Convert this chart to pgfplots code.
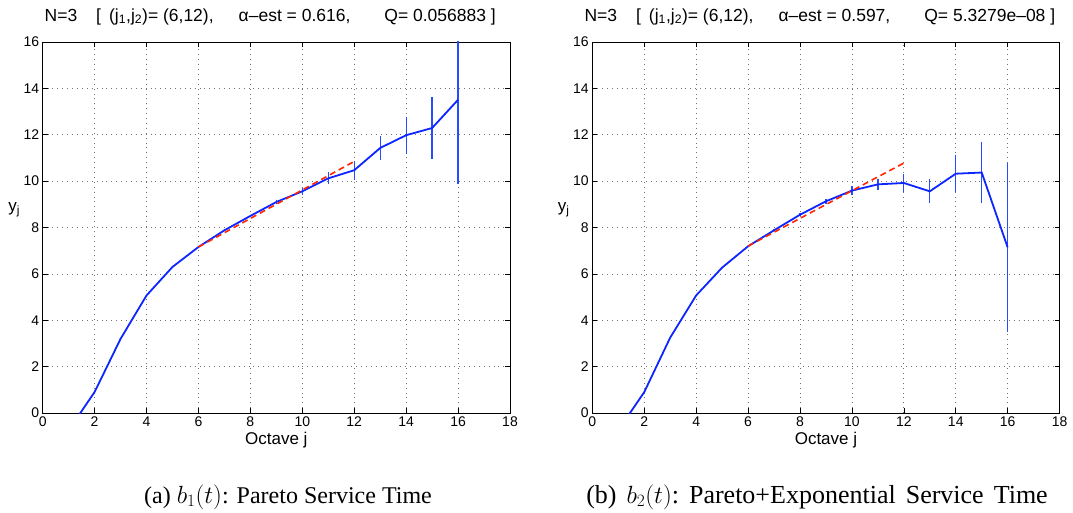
\documentclass[border=0pt]{standalone}
\usepackage{fontspec}
\setmainfont{Liberation Sans}
\newfontfamily\capfont{Liberation Serif}
\usepackage{pgfplots}
\pgfplotsset{compat=1.18}
\usepackage{pgfplotstable}

\pgfplotstableread{
j y
1 -0.74
2 0.906
3 3.2
4 5.07
5 6.30
6 7.16
7 7.88
8 8.50
9 9.10
10 9.56
11 10.12
12 10.47
13 11.43
14 11.98
15 12.29
16 13.51
}\leftdata

% error bar ends (lower, upper) per octave
\pgfplotstableread{
j y
6 7.13
6 7.19
nan nan
7 7.84
7 7.92
nan nan
8 8.44
8 8.56
nan nan
9 9.00
9 9.20
nan nan
10 9.40
10 9.72
nan nan
11 9.86
11 10.38
nan nan
12 10.07
12 10.87
nan nan
13 10.90
13 11.96
nan nan
14 11.18
14 12.78
nan nan
15 10.96
15 13.62
nan nan
16 9.89
16 17.13
}\lefterr

\pgfplotstableread{
j y
1 -0.74
2 0.90
3 3.25
4 5.07
5 6.27
6 7.19
7 7.88
8 8.55
9 9.13
10 9.59
11 9.86
12 9.92
13 9.56
14 10.32
15 10.37
16 7.14
}\rightdata

\pgfplotstableread{
j y
6 7.16
6 7.22
nan nan
7 7.84
7 7.92
nan nan
8 8.49
8 8.61
nan nan
9 9.03
9 9.23
nan nan
10 9.39
10 9.79
nan nan
11 9.61
11 10.11
nan nan
12 9.55
12 10.29
nan nan
13 9.04
13 10.08
nan nan
14 9.53
14 11.11
nan nan
15 9.04
15 11.70
nan nan
16 3.50
16 10.78
}\righterr

\pgfplotstableread{
j y
6 7.16
12 10.85
}\leftfit

\pgfplotstableread{
j y
6 7.20
12 10.78
}\rightfit

\definecolor{mblue}{rgb}{0.05,0.15,1}
\definecolor{eblue}{rgb}{0.15,0.3,1}
\definecolor{mred}{rgb}{1,0.15,0}

\pgfplotsset{
  mstyle/.style={
    anchor=south west,
    width=467.3pt, height=371pt, scale only axis,
    xmin=0, xmax=18, ymin=0, ymax=16,
    xtick={0,2,...,18}, ytick={0,2,...,16},
    tick align=inside, major tick length=5pt,
    grid=major,
    major grid style={dash pattern=on 0.9pt off 4pt, black!55, line width=0.7pt},
    axis line style={line width=0.8pt},
    every tick/.style={black, line width=0.6pt},
    /pgf/number format/assume math mode=true,
    tick label style={font=\fontsize{14}{16}\selectfont},
    label style={font=\fontsize{17}{20}\selectfont},
    title style={font=\fontsize{17.5}{20}\selectfont, at={(axis description cs:0.487,1.0566)}, anchor=base, yshift=-6pt},
    xlabel={Octave j},
    xlabel style={at={(axis description cs:0.5,-0.073)}, anchor=center},
    ylabel={y\textsubscript{j}},
    ylabel style={at={(axis description cs:-0.061,0.547)}, anchor=center, rotate=-90},
    clip=true,
    unbounded coords=jump,
  }
}

\newcommand{\ttl}[2]{N=3\hspace{19pt}[\hspace{8pt}(j\textsubscript{1},j\textsubscript{2})= (6,12),\hspace{25pt}α–est = #1,\hspace{34pt}Q= #2 ]}

\begin{document}
\begin{tikzpicture}[x=1pt,y=1pt]
\useasboundingbox (0,0) rectangle (1073,512);
\begin{axis}[mstyle, at={(42.7pt,99pt)}, title={\ttl{0.616}{0.056883}}]
\addplot[eblue, line width=1.3pt, no marks] table[x=j, y=y] {\lefterr};
\addplot[mblue, line width=1.8pt, no marks] table[x=j, y=y] {\leftdata};
\addplot[mred, line width=1.6pt, dash pattern=on 6pt off 4pt] table[x=j,y=y] {\leftfit};
\end{axis}
\begin{axis}[mstyle, at={(592.3pt,99pt)}, title={\ttl{0.597}{5.3279e–08}}]
\addplot[eblue, line width=1.3pt, no marks] table[x=j, y=y] {\righterr};
\addplot[mblue, line width=1.8pt, no marks] table[x=j, y=y] {\rightdata};
\addplot[mred, line width=1.6pt, dash pattern=on 6pt off 4pt] table[x=j,y=y] {\rightfit};
\end{axis}
\node[font=\capfont\fontsize{24}{28}\selectfont, anchor=base] at (288,9) {(a) $b_1(t)$: Pareto Service Time};
\node[font=\capfont\fontsize{26}{30}\selectfont, anchor=base] at (817,9) {(b)\hspace{10pt}$b_2(t)$:\hspace{10pt}Pareto+Exponential\hspace{10pt}Service\hspace{10pt}Time};
\end{tikzpicture}
\end{document}
